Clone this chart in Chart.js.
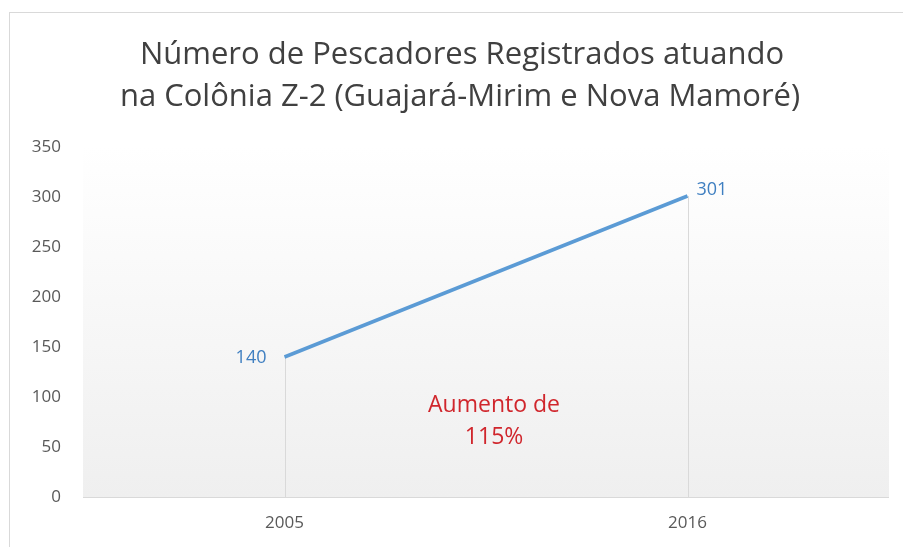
<!DOCTYPE html>
<html>
<head>
<meta charset="utf-8">
<script src="https://cdn.jsdelivr.net/npm/chart.js@4/dist/chart.umd.min.js"></script>
<style>
    html, body { margin: 0; padding: 0; background: #fff; }
    #wrap { position: relative; width: 903px; height: 547px; overflow: hidden; }
    #frame { position: absolute; left: 9px; top: 12px; width: 1000px; height: 600px; border: 1px solid #d9d9d9; }
    canvas { position: absolute; left: 0; top: 0; }
</style>
</head>
<body>
<div id="wrap">
    <div id="frame"></div>
    <canvas id="chart" width="903" height="547"></canvas>
</div>
<script>
    var years = ['2005', '2016'];
    var pescadores = [140, 301];
    var yTicks = [0, 50, 100, 150, 200, 250, 300, 350];
    var titleLines = ['Número de Pescadores Registrados atuando', 'na Colônia Z-2 (Guajará-Mirim e Nova Mamoré)'];
    var noteLines = ['Aumento de', '115%'];
    var notePos = { x: 0.52, y: [92, 60] };

    var FONT = '"Open Sans", sans-serif';

    // title, plot area gradient, drop lines, value labels and the red note
    var extras = {
        id: 'extras',
        beforeDatasetsDraw: function(chart) {
            var ctx = chart.ctx, a = chart.chartArea;
            ctx.save();
            ctx.font = '31px ' + FONT;
            ctx.fillStyle = '#404040';
            ctx.textAlign = 'center';
            ctx.textBaseline = 'middle';
            ctx.fillText(titleLines[0], 462, 55);
            ctx.fillText(titleLines[1], 460, 97);

            var g = ctx.createLinearGradient(0, a.top, 0, a.bottom);
            g.addColorStop(0, '#ffffff');
            g.addColorStop(1, '#efefef');
            ctx.fillStyle = g;
            ctx.fillRect(a.left, a.top, a.right - a.left, a.bottom - a.top);

            var xs = chart.scales.x, ys = chart.scales.y;
            ctx.strokeStyle = '#d9d9d9';
            ctx.lineWidth = 1;
            pescadores.forEach(function(v, i) {
                var px = Math.round(xs.getPixelForValue(i)) + 0.5;
                ctx.beginPath();
                ctx.moveTo(px, ys.getPixelForValue(v));
                ctx.lineTo(px, a.bottom);
                ctx.stroke();
            });
            ctx.beginPath();
            ctx.moveTo(a.left, a.bottom + 0.5);
            ctx.lineTo(a.right, a.bottom + 0.5);
            ctx.stroke();
            ctx.restore();
        },
        afterDatasetsDraw: function(chart) {
            var ctx = chart.ctx;
            var xs = chart.scales.x, ys = chart.scales.y;
            ctx.save();
            ctx.font = '18px ' + FONT;
            ctx.fillStyle = '#3f7fc1';
            ctx.textBaseline = 'middle';
            ctx.textAlign = 'right';
            ctx.fillText(String(pescadores[0]), xs.getPixelForValue(0) - 18, ys.getPixelForValue(pescadores[0]) + 1);
            ctx.textAlign = 'left';
            ctx.fillText(String(pescadores[1]), xs.getPixelForValue(1) + 9, ys.getPixelForValue(pescadores[1]) - 6);

            ctx.font = '23px ' + FONT;
            ctx.fillStyle = '#d0262c';
            ctx.textAlign = 'center';
            noteLines.forEach(function(t, i) {
                ctx.fillText(t, xs.getPixelForValue(notePos.x), ys.getPixelForValue(notePos.y[i]));
            });
            ctx.restore();
        }
    };

    new Chart(document.getElementById('chart'), {
        type: 'line',
        data: {
            labels: years,
            datasets: [{
                data: pescadores,
                borderColor: '#5b9bd5',
                borderWidth: 3.5,
                pointRadius: 0,
                tension: 0,
                fill: false
            }]
        },
        options: {
            responsive: false,
            animation: false,
            layout: { padding: { left: 0, right: 14, top: 147, bottom: 0 } },
            plugins: {
                legend: { display: false },
                tooltip: { enabled: false },
                title: { display: false }
            },
            scales: {
                x: {
                    offset: true,
                    grid: { display: false, drawTicks: false },
                    border: { display: false },
                    ticks: { color: '#595959', font: { family: FONT, size: 17 }, padding: 16 },
                    afterFit: function(s) { s.height = 50; }
                },
                y: {
                    min: 0,
                    max: 350,
                    afterBuildTicks: function(s) { s.ticks = yTicks.map(function(v) { return { value: v }; }); },
                    grid: { display: false, drawTicks: false },
                    border: { display: false },
                    ticks: { color: '#595959', font: { family: FONT, size: 17 }, padding: 22 },
                    afterFit: function(s) { s.width = 83; }
                }
            }
        },
        plugins: [extras]
    });
</script>
</body>
</html>
